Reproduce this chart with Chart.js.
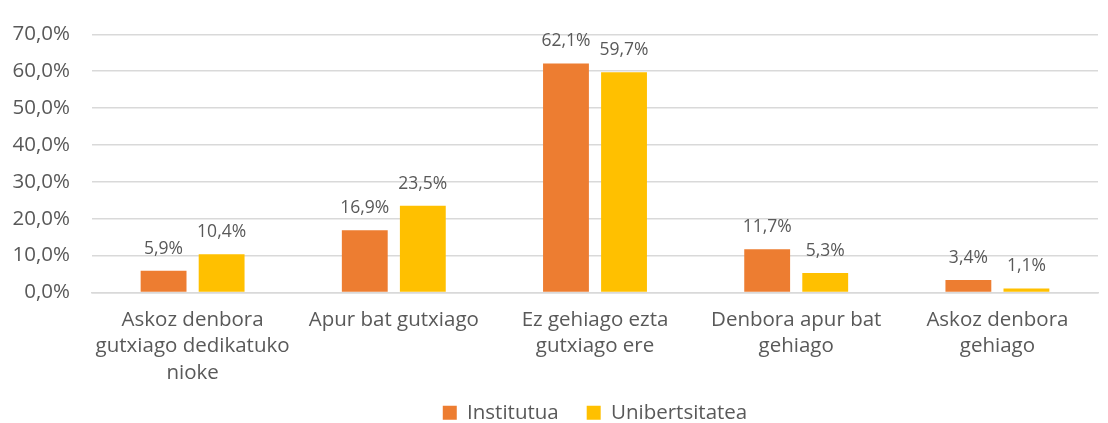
<!DOCTYPE html>
<html>
<head>
<meta charset="utf-8">
<script src="https://cdn.jsdelivr.net/npm/chart.js@4"></script>
<style>
  html, body { margin: 0; padding: 0; background: #fff; }
  #wrap { width: 1108px; height: 423px; }
</style>
</head>
<body>
<div id="wrap"><canvas id="chart"></canvas></div>
<script>
const categories = [
  ["Askoz denbora", "gutxiago dedikatuko", "nioke"],
  "Apur bat gutxiago",
  ["Ez gehiago ezta", "gutxiago ere"],
  ["Denbora apur bat", "gehiago"],
  ["Askoz denbora", "gehiago"]
];
const institutua = [5.9, 16.9, 62.1, 11.7, 3.4];
const unibertsitatea = [10.4, 23.5, 59.7, 5.3, 1.1];

const textColor = "#595959";
const fontFamily = "'Open Sans', sans-serif";

function pct(v) {
  return v.toFixed(1).replace(".", ",") + "%";
}

// draw value labels above bars
const valueLabels = {
  id: "valueLabels",
  afterDatasetsDraw(chart) {
    const ctx = chart.ctx;
    ctx.save();
    ctx.fillStyle = textColor;
    ctx.font = "17.5px " + fontFamily;
    ctx.textAlign = "center";
    ctx.textBaseline = "alphabetic";
    chart.data.datasets.forEach((ds, i) => {
      chart.getDatasetMeta(i).data.forEach((bar, j) => {
        ctx.fillText(pct(ds.data[j]), bar.x, bar.y - 17);
      });
    });
    ctx.restore();
  }
};

new Chart(document.getElementById("chart"), {
  type: "bar",
  data: {
    labels: categories,
    datasets: [
      { label: "Institutua", data: institutua, backgroundColor: "#ED7D31" },
      { label: "Unibertsitatea", data: unibertsitatea, backgroundColor: "#FFC000" }
    ]
  },
  plugins: [valueLabels],
  options: {
    responsive: true,
    maintainAspectRatio: false,
    animation: false,
    categoryPercentage: 0.577,
    barPercentage: 0.79,
    layout: { padding: { left: 0, right: 10, top: 10, bottom: -10 } },
    plugins: {
      legend: {
        position: "bottom",
        fullSize: false,
        labels: {
          color: textColor,
          font: { family: fontFamily, size: 20.5 },
          boxWidth: 14,
          boxHeight: 14,
          padding: 12,
          // a bit more room between the two legend entries
          generateLabels(chart) {
            const items = Chart.defaults.plugins.legend.labels.generateLabels(chart);
            items.forEach((it, i) => {
              if (i < items.length - 1) it.text += "   ";
            });
            return items;
          }
        }
      },
      tooltip: { enabled: false }
    },
    scales: {
      y: {
        min: 0,
        max: 70,
        ticks: {
          stepSize: 10,
          color: textColor,
          font: { family: fontFamily, size: 20.5 },
          padding: 22,
          callback: v => pct(v)
        },
        grid: { color: "#D9D9D9", lineWidth: 1.5, drawTicks: false },
        border: { display: false },
        afterFit(axis) { axis.width = 92; }
      },
      x: {
        ticks: {
          color: textColor,
          font: { family: fontFamily, size: 20.5, lineHeight: 1.3 },
          maxRotation: 0,
          autoSkip: false,
          padding: 14
        },
        grid: { display: false, drawTicks: false },
        border: { color: "#D9D9D9", width: 1.5 },
        afterFit(axis) { axis.height = 98; }
      }
    }
  }
});
</script>
</body>
</html>
